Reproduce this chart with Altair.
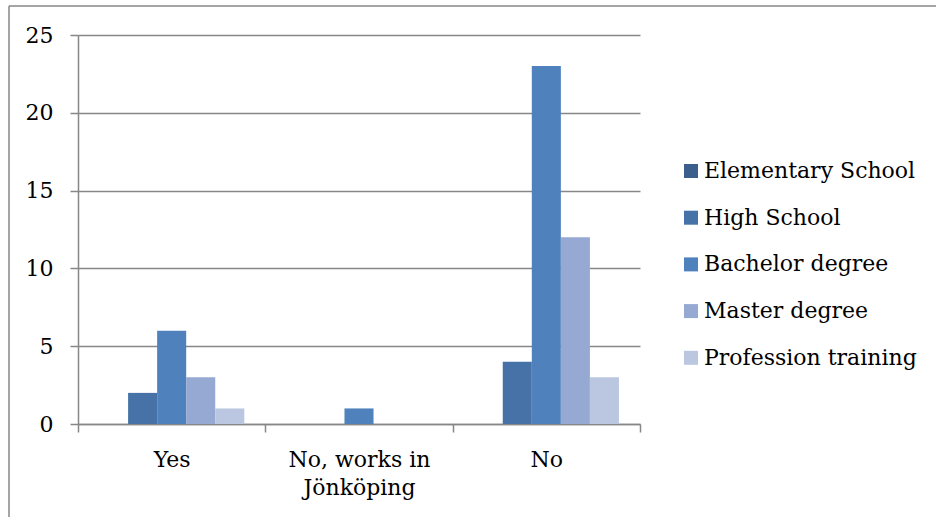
import altair as alt
import pandas as pd

categories = ["Yes", "No, works in Jönköping", "No"]
series = ["Elementary School", "High School", "Bachelor degree", "Master degree", "Profession training"]
elementary = [0, 0, 0]
high_school = [2, 0, 4]
bachelor = [6, 1, 23]
master = [3, 0, 12]
profession = [1, 0, 3]
colors = ["#3C5E8D", "#4672A7", "#4F81BD", "#95A9D2", "#BBC7E1"]
y_ticks = [0, 5, 10, 15, 20, 25]

rows = []
for s, vals in zip(series, [elementary, high_school, bachelor, master, profession]):
    for c, v in zip(categories, vals):
        rows.append({"category": c, "series": s, "value": v})
df = pd.DataFrame(rows)

FONT = "DejaVu Serif"
GRID = "#878787"
FS = 22

bars = alt.Chart(df).mark_bar().encode(
    x=alt.X("category:N", sort=categories, title=None,
            scale=alt.Scale(paddingInner=0, paddingOuter=0),
            axis=alt.Axis(labelAngle=0, tickBand="extent", tickSize=8, tickColor=GRID,
                          domainColor=GRID, domainWidth=1.5, tickWidth=1.5,
                          labelFont=FONT, labelFontSize=FS, labelColor="#000000",
                          labelPadding=17, labelLineHeight=28, labelBaseline="top",
                          labelExpr="datum.label == 'No, works in Jönköping' ? ['No, works in', 'Jönköping'] : datum.label")),
    xOffset=alt.XOffset("series:N", sort=series,
                        scale=alt.Scale(paddingInner=0, paddingOuter=0.724)),
    y=alt.Y("value:Q", title=None,
            scale=alt.Scale(domain=[0, 25], nice=False),
            axis=alt.Axis(values=y_ticks, tickSize=8, tickColor=GRID, tickWidth=1.5,
                          domainColor=GRID, domainWidth=1.5,
                          gridColor=GRID, gridWidth=1.5, grid=True,
                          labelFont=FONT, labelFontSize=FS, labelColor="#000000",
                          labelPadding=17)),
    color=alt.Color("series:N", sort=series, title=None,
                    scale=alt.Scale(domain=series, range=colors),
                    legend=alt.Legend(orient="none", legendX=602, legendY=125,
                                      symbolType="square", symbolSize=196,
                                      symbolStrokeWidth=0,
                                      labelFont=FONT, labelFontSize=FS, labelColor="#000000",
                                      rowPadding=24.7, labelOffset=2, labelLimit=400)),
)

border_df = pd.DataFrame({"k": [0]})
top_border = alt.Chart(border_df).mark_rule(color=GRID, strokeWidth=1.5).encode(
    x=alt.value(-69), x2=alt.value(860), y=alt.value(-29))
left_border = alt.Chart(border_df).mark_rule(color=GRID, strokeWidth=1.5).encode(
    x=alt.value(-69), y=alt.value(-29), y2=alt.value(485))

chart = alt.layer(bars, top_border, left_border).properties(
    width=562, height=389,
    autosize=alt.AutoSizeParams(type="none"),
    padding={"left": 78, "top": 35, "right": 296, "bottom": 93},
    background="#ffffff",
).configure_view(stroke=None)

chart.save("out.html", embed_options={"renderer": "svg", "actions": False})
